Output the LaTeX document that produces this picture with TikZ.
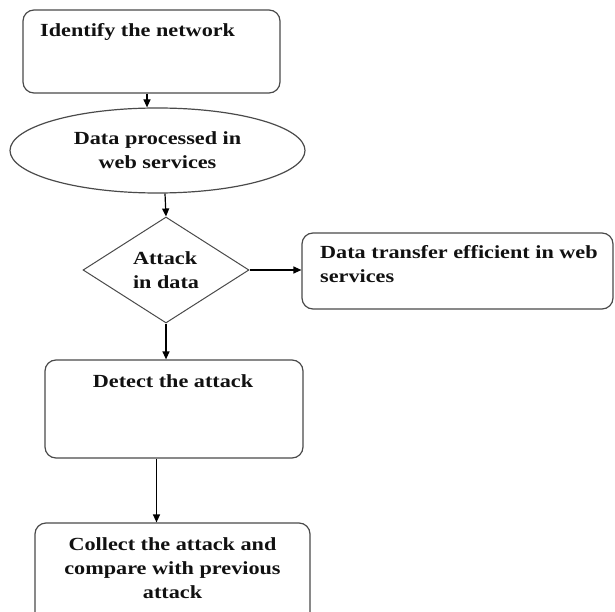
\documentclass[tikz,border=0pt]{standalone}
\usepackage{fontspec}
\setmainfont{Liberation Serif}[FakeStretch=1.2]
\usepackage{tikz}
\usetikzlibrary{
  arrows.meta,
  calc,
  shapes.geometric
}
\definecolor{flowGray}{HTML}{4A4A4A}
\definecolor{flowInk}{HTML}{111111}
\tikzset{
  flowBox/.style={
    draw=flowGray,
    rounded corners=11pt,
    line width=1.2pt,
    inner sep=0pt
  },
  flowOval/.style={
    draw=flowGray,
    ellipse,
    line width=1.2pt,
    inner sep=0pt,
    align=center
  },
  flowCheck/.style={
    draw=flowGray,
    diamond,
    line width=1pt,
    inner sep=0pt,
    align=left
  },
  flowText/.style={
    font=\fontsize{18.5}{24}\selectfont\bfseries,
    text=flowInk,
    inner sep=0pt
  },
  flowArrow/.style={-{Triangle[length=8pt,width=7pt]}, line width=1.2pt, black}
}
\begin{document}
\begin{tikzpicture}[x=1pt,y=1pt]
  \useasboundingbox (0,0) rectangle (615,-612);
  \clip (0,0) rectangle (615,-612);

  \node[flowBox, minimum width=257pt, minimum height=83pt] (identify) at (151.5,-51.5) {};
  \node[flowText, anchor=base west] (identifyText) at (40,-37) {Identify the network};

  \node[flowOval, flowText, minimum width=295pt, minimum height=85pt] (process) at (157.5,-150.5)
    {Data processed in\\web services};

  \node[flowCheck, flowText, minimum width=166pt, minimum height=106pt] (attack) at (166,-270)
    {Attack\\in data};

  \node[flowBox, minimum width=311pt, minimum height=76pt] (transfer) at (457.5,-271) {};
  \node[flowText, anchor=base west, align=left] (transferText) at (320,-282)
    {Data transfer efficient in web\\services};

  \node[flowBox, minimum width=258pt, minimum height=98pt] (detect) at (174,-409) {};
  \node[flowText, anchor=base] (detectText) at (173,-387) {Detect the attack};

  \node[flowBox, minimum width=275pt, minimum height=100pt] (collect) at (172.5,-573) {};
  \node[flowText, anchor=north, align=center] (collectText) at (172.5,-537)
    {Collect the attack and\\compare with previous\\attack};

  \draw[flowArrow] ([xshift=-4.5pt]identify.south) -- ([xshift=-10.5pt]process.north);
  \draw[flowArrow] ([xshift=7.5pt]process.south) -- (attack.north);
  \draw[flowArrow] (attack.east) -- (attack.east -| transfer.west);
  \draw[flowArrow] (attack.south) -- (attack.south |- detect.north);
  \draw[flowArrow] ([xshift=-17.5pt]detect.south) -- ([xshift=-17.5pt]detect.south |- collect.north);
\end{tikzpicture}
\end{document}
